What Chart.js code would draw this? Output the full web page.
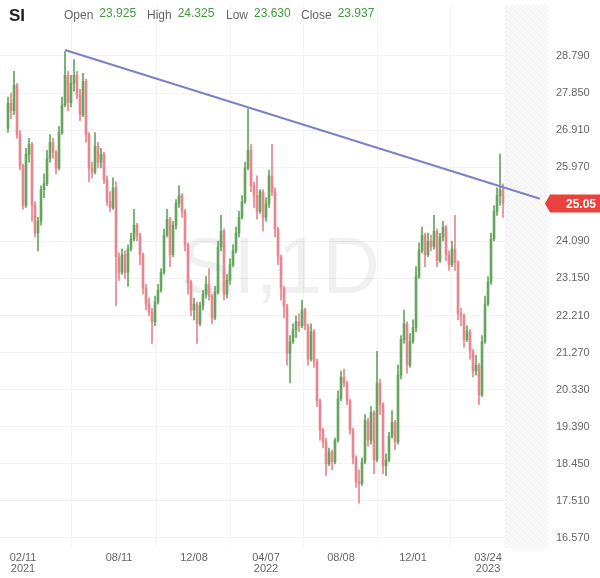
<!DOCTYPE html>
<html>
<head>
<meta charset="utf-8">
<script src="https://cdn.jsdelivr.net/npm/chart.js@4/dist/chart.umd.min.js"></script>
<style>
  body { margin: 0; background: #fff; }
  #wrap { width: 600px; height: 578px; position: relative; }
</style>
</head>
<body>
<div id="wrap"><canvas id="siChart"></canvas></div>
<script>
// SI daily candles, Jan 2021 - Apr 2023 (one candle per slot)
const opens = [26.95,27.6,27.4,28.05,26.8,26.0,25.0,26.3,26.55,25.0,24.3,24.6,25.4,25.55,26.2,26.6,26.35,25.95,26.85,27.55,
  28.3,27.6,28.1,28.3,27.8,27.3,28.15,26.8,25.95,25.85,26.5,26.1,26.3,25.65,25.1,24.95,25.45,23.7,23.3,23.75,
  23.3,23.9,24.15,24.5,24.25,23.75,22.9,22.5,22.3,22.05,22.55,22.85,23.3,24.25,24.65,23.75,24.5,25.05,25.25,24.85,
  24.0,23.05,22.35,22.5,22.0,22.45,22.75,23.0,22.7,22.15,22.8,23.95,24.35,22.75,23.1,23.5,23.85,24.3,24.7,25.1,
  25.95,26.4,25.5,25.25,24.85,25.35,24.7,25.05,25.75,25.35,24.4,23.7,22.9,22.45,21.25,21.55,21.85,22.05,21.95,22.35,
  21.95,21.1,21.8,21.05,20.05,19.3,19.0,18.45,18.75,18.5,19.05,20.1,20.65,20.5,20.05,19.3,18.6,18.0,17.95,18.5,
  19.55,19.05,19.75,18.55,20.5,19.95,18.4,18.55,19.15,19.5,19.0,20.7,21.6,22.0,20.95,21.55,21.9,23.2,23.85,24.25,
  23.75,24.1,23.95,24.35,23.6,24.2,24.45,23.75,23.5,23.9,23.55,22.25,22.2,21.6,21.8,21.3,20.8,20.95,20.2,21.55,
  22.5,23.05,24.15,24.85,25.25,25.4];
const highs = [27.75,27.85,28.4,28.1,26.9,26.05,26.45,26.7,26.6,25.1,24.7,25.5,25.8,26.4,26.8,26.7,26.4,27.0,27.75,28.9,
  28.4,28.3,28.7,28.4,27.95,28.35,28.2,26.85,26.1,26.85,26.6,26.45,26.35,25.75,25.35,25.7,25.6,23.8,23.9,23.85,
  24.0,24.3,24.9,24.55,24.3,23.8,23.0,22.65,22.4,22.7,23.0,23.4,24.4,24.9,24.7,24.6,25.15,25.5,25.3,24.9,
  24.05,23.1,22.65,22.55,22.55,22.85,23.2,23.4,22.75,22.95,24.1,24.75,24.4,23.25,23.65,24.0,24.45,24.85,25.25,26.1,
  27.45,26.55,25.6,25.75,25.4,25.4,25.2,25.9,26.55,25.45,24.45,23.75,22.95,22.5,21.7,22.0,22.2,22.25,22.6,22.4,
  22.0,22.0,21.85,21.1,20.1,19.35,19.1,18.85,18.8,19.1,20.3,20.8,20.85,20.55,20.1,19.35,18.65,18.3,18.6,19.7,
  19.6,19.9,19.8,21.3,20.6,20.0,18.7,19.25,19.8,19.55,20.95,21.7,22.35,22.05,21.75,22.1,23.45,24.05,24.45,24.3,
  24.3,24.25,24.75,24.4,24.3,24.6,24.5,23.85,24.1,24.75,23.6,22.4,22.25,21.95,21.85,21.35,21.2,21.0,21.7,22.7,
  23.2,24.3,25.0,25.45,26.3,25.55];
const lows = [26.85,27.2,27.3,26.7,25.9,24.9,24.95,26.1,24.6,24.2,23.85,24.5,25.2,25.5,26.1,26.2,25.8,25.9,26.8,27.5,
  27.4,27.5,27.9,27.7,27.15,27.25,26.6,25.6,25.7,25.8,25.95,25.95,25.55,25.0,24.85,24.9,22.45,23.1,23.25,23.15,
  22.95,23.85,24.1,24.1,23.5,22.75,22.35,22.2,21.5,21.95,22.5,22.8,23.25,24.2,23.45,23.7,24.4,24.95,24.7,23.85,
  22.75,22.2,22.1,21.5,21.95,22.35,22.65,22.6,22.0,22.1,22.75,23.85,22.6,22.65,23.0,23.45,23.8,24.2,24.65,25.05,
  25.9,25.35,24.95,24.65,24.8,24.35,24.6,24.95,25.25,24.2,23.5,22.6,22.15,20.95,20.5,21.5,21.65,21.8,21.9,21.85,
  20.95,21.05,20.9,19.9,19.05,18.85,18.15,18.4,18.3,18.45,19.0,20.05,20.4,19.95,19.2,18.45,17.85,17.45,17.9,18.45,
  18.9,18.95,18.2,18.5,19.7,18.2,18.15,18.5,19.1,18.8,18.95,20.6,21.5,20.75,20.9,21.5,21.8,23.15,23.8,23.45,
  23.7,23.85,23.9,23.45,23.55,24.1,23.6,23.35,23.45,23.35,22.1,21.95,21.4,21.55,21.1,20.65,20.7,19.95,20.15,21.5,
  22.45,23.0,24.1,24.75,25.0,24.7];
const closes = [27.6,27.4,28.05,26.8,26.0,25.0,26.3,26.55,25.0,24.3,24.6,25.4,25.55,26.2,26.6,26.35,25.95,26.85,27.55,28.3,
  27.6,28.1,28.3,27.8,27.3,28.15,26.8,25.95,25.85,26.5,26.1,26.3,25.65,25.1,24.95,25.45,23.7,23.3,23.75,23.3,
  23.9,24.15,24.5,24.25,23.75,22.9,22.5,22.3,22.05,22.55,22.85,23.3,24.25,24.65,23.75,24.5,25.05,25.25,24.85,24.0,
  23.05,22.35,22.5,22.0,22.45,22.75,23.0,22.7,22.15,22.8,23.95,24.35,22.75,23.1,23.5,23.85,24.3,24.7,25.1,25.95,
  26.4,25.5,25.25,24.85,25.35,24.7,25.05,25.75,25.35,24.4,23.7,22.9,22.45,21.25,21.55,21.85,22.05,21.95,22.35,21.95,
  21.1,21.8,21.05,20.05,19.3,19.0,18.45,18.75,18.5,19.05,20.1,20.65,20.5,20.05,19.3,18.6,18.0,17.95,18.5,19.55,
  19.05,19.75,18.55,20.5,19.95,18.4,18.55,19.15,19.5,19.0,20.7,21.6,22.0,20.95,21.55,21.9,23.2,23.85,24.25,23.75,
  24.1,23.95,24.35,23.6,24.2,24.45,23.75,23.5,23.9,23.55,22.25,22.2,21.6,21.8,21.3,20.8,20.95,20.2,21.55,22.5,
  23.05,24.15,24.85,25.25,25.4,25.05];

// x tick positions (candle index) and their labels
const xTickIdx = [5, 37, 62, 86, 111, 135, 160];
const xTickText = [['02/11', '2021'], '08/11', '12/08', ['04/07', '2022'], '08/08', '12/01', ['03/24', '2023']];
// right axis ticks (25.030 is hidden behind the price tag)
const yTickVals = [16.57, 17.51, 18.45, 19.39, 20.33, 21.27, 22.21, 23.15, 24.09, 25.97, 26.91, 27.85, 28.79];
// trend line: [candle index, price]
const trendLine = [[19, 28.94], [177.3, 25.17]];
const header = { open: '23.925', high: '24.325', low: '23.630', close: '23.937' };

const UP = '#66a55e';
const DOWN = '#e7868f';
const FONT = '"Liberation Sans", Arial, sans-serif';

const candleColor = ctx => closes[ctx.dataIndex] >= opens[ctx.dataIndex] ? UP : DOWN;

const decorPlugin = {
    id: 'decor',
    beforeDatasetsDraw(chart) {
        const { ctx, chartArea: a, scales: { x } } = chart;
        // hatched "future" zone
        const x0 = x.getPixelForValue(165.7);
        ctx.save();
        ctx.beginPath();
        ctx.rect(x0, a.top, a.right - x0 + 2, a.bottom - a.top);
        ctx.clip();
        ctx.fillStyle = '#fcfcfc';
        ctx.fillRect(x0, a.top, a.right - x0 + 2, a.bottom - a.top);
        ctx.strokeStyle = '#ececec';
        ctx.lineWidth = 1;
        ctx.beginPath();
        const h = a.bottom - a.top;
        for (let k = -h; k < 80; k += 4) {
            ctx.moveTo(x0 + k, a.bottom);
            ctx.lineTo(x0 + k + h, a.top);
        }
        ctx.stroke();
        ctx.restore();

        // watermark
        ctx.save();
        ctx.font = '80px ' + FONT;
        ctx.fillStyle = 'rgba(0,0,0,0.06)';
        ctx.textAlign = 'center';
        ctx.textBaseline = 'middle';
        ctx.fillText('SI,1D', 280, 271);
        ctx.restore();
    },
    afterDraw(chart) {
        const { ctx, scales: { y } } = chart;
        // last price tag
        const last = closes[closes.length - 1];
        const py = y.getPixelForValue(last);
        ctx.save();
        ctx.fillStyle = '#e8413e';
        ctx.beginPath();
        ctx.moveTo(545, py);
        ctx.lineTo(550, py - 9);
        ctx.lineTo(600, py - 9);
        ctx.lineTo(600, py + 9);
        ctx.lineTo(550, py + 9);
        ctx.closePath();
        ctx.fill();
        ctx.fillStyle = '#fff';
        ctx.font = 'bold 12px ' + FONT;
        ctx.textBaseline = 'middle';
        ctx.fillText(last.toFixed(2), 566, py + 1);

        // header line
        ctx.fillStyle = '#222';
        ctx.font = 'bold 17px ' + FONT;
        ctx.fillText('SI', 9, 16);
        const items = [['Open', header.open, 64], ['High', header.high, 147], ['Low', header.low, 226], ['Close', header.close, 301]];
        items.forEach(([lab, val, px]) => {
            ctx.font = '12px ' + FONT;
            ctx.fillStyle = '#666';
            ctx.fillText(lab, px, 16);
            const w = ctx.measureText(lab).width;
            ctx.fillStyle = '#3f9a3f';
            ctx.fillText(val, px + w + 6, 14);
        });
        ctx.restore();
    }
};

new Chart(document.getElementById('siChart'), {
    type: 'bar',
    data: {
        datasets: [
            {
                type: 'line',
                data: trendLine.map(([i, v]) => ({ x: i, y: v })),
                borderColor: '#7c80c6',
                borderWidth: 2,
                pointRadius: 0,
                order: 0
            },
            {
                data: opens.map((o, i) => ({ x: i, y: [o, closes[i]] })),
                backgroundColor: candleColor,
                barThickness: 2,
                minBarLength: 1,
                grouped: false,
                order: 1
            },
            {
                data: lows.map((l, i) => ({ x: i, y: [l, highs[i]] })),
                backgroundColor: candleColor,
                barThickness: 1,
                grouped: false,
                order: 2
            }
        ]
    },
    plugins: [decorPlugin],
    options: {
        responsive: true,
        maintainAspectRatio: false,
        animation: false,
        layout: { padding: { top: 5, left: 0, right: 0, bottom: 0 } },
        plugins: {
            legend: { display: false },
            tooltip: { enabled: false }
        },
        scales: {
            x: {
                type: 'linear',
                offset: false,
                min: -8 / 3,
                max: 179.33,
                border: { display: false },
                grid: { color: '#f3f3f3', drawTicks: false },
                afterBuildTicks: scale => { scale.ticks = xTickIdx.map(v => ({ value: v })); },
                afterFit: scale => {
                    scale.height = 30;
                    scale.paddingLeft = 0;
                    scale.paddingRight = 0;
                },
                ticks: {
                    autoSkip: false,
                    maxRotation: 0,
                    padding: 4,
                    color: '#666',
                    font: { family: FONT, size: 11, lineHeight: 1.0 },
                    callback: (v, i) => xTickText[i]
                }
            },
            y: {
                position: 'right',
                min: 16.315,
                max: 30.083,
                border: { display: false },
                grid: { color: '#f2f2f2', drawTicks: false },
                afterBuildTicks: scale => { scale.ticks = yTickVals.map(v => ({ value: v })); },
                afterFit: scale => {
                    scale.width = 54;
                    scale.paddingTop = 0;
                    scale.paddingBottom = 0;
                },
                ticks: {
                    padding: 10,
                    color: '#666',
                    font: { family: FONT, size: 11 },
                    callback: v => v.toFixed(3)
                }
            }
        }
    }
});
</script>
</body>
</html>
